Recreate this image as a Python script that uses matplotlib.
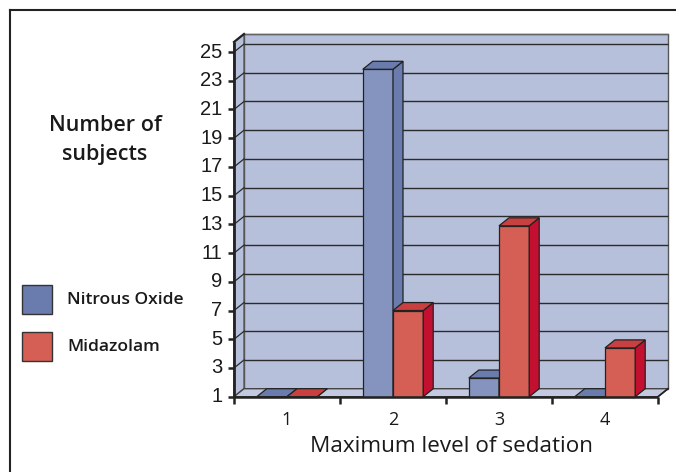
import matplotlib
matplotlib.use("Agg")
import matplotlib.pyplot as plt
from matplotlib.patches import Polygon, Rectangle
from matplotlib.lines import Line2D

# ---- data -------------------------------------------------------------
levels = ["1", "2", "3", "4"]
series_names = ["Nitrous Oxide", "Midazolam"]
nitrous_oxide = [0, 23.8, 2.3, 0]
midazolam = [0, 7.0, 12.9, 4.4]
y_ticks = list(range(1, 26, 2))

# ---- styling ----------------------------------------------------------
W, H, DPI = 676, 472, 100
face = {"Nitrous Oxide": ("#8494BE", "#6A7CAE", "#6A7CAE"),   # front, top, side
        "Midazolam": ("#D55F55", "#C84040", "#C41030")}
wall_color = "#B7C0DA"
floor_color = "#C3C9E0"
ink = "#222222"
y_min, y_max = 1, 25.7
depth_px = (10, 8)

fig = plt.figure(figsize=(W / DPI, H / DPI), dpi=DPI)
fig.patch.set_facecolor("white")

def fx(px):
    return px / W

def fy(py):
    return 1 - py / H

# front plane of the 3-D box
left_px, right_px, bottom_px, top_px = 234, 658, 396.7, 42
ax = fig.add_axes([fx(left_px), fy(bottom_px), fx(right_px - left_px),
                   (bottom_px - top_px) / H])
ax.set_xlim(0.5, len(levels) + 0.5)
ax.set_ylim(y_min, y_max)
ax.axis("off")

x0, x1 = ax.get_xlim()
dx = depth_px[0] * (x1 - x0) / (right_px - left_px)
dy = depth_px[1] * (y_max - y_min) / (bottom_px - top_px)

def poly(pts, fc, ec=ink, lw=0.9, z=1):
    p = Polygon(pts, closed=True, facecolor=fc, edgecolor=ec, linewidth=lw,
                zorder=z, clip_on=False, joinstyle="miter")
    ax.add_patch(p)

# back wall, side wall, floor
poly([(x0 + dx, y_min + dy), (x1 + dx, y_min + dy), (x1 + dx, y_max + dy),
      (x0 + dx, y_max + dy)], wall_color, ec="#555555", lw=1.0, z=1)
poly([(x0, y_min), (x0 + dx, y_min + dy), (x0 + dx, y_max + dy), (x0, y_max)],
     wall_color, ec="#555555", lw=1.0, z=1)
poly([(x0, y_min), (x1, y_min), (x1 + dx, y_min + dy), (x0 + dx, y_min + dy)],
     floor_color, ec="#444444", lw=1.0, z=1)

# gridlines on the walls
for v in y_ticks[1:]:
    ax.plot([x0 + dx, x1 + dx], [v + dy, v + dy], color="#2b2b2b", lw=1.0,
            zorder=2, clip_on=False, solid_capstyle="butt")
    ax.plot([x0, x0 + dx], [v, v + dy], color="#2b2b2b", lw=0.9,
            zorder=2, clip_on=False)
ax.plot([x0 + dx, x1 + dx], [y_max + dy, y_max + dy], color="#666666", lw=1.0,
        zorder=2, clip_on=False)

# bars
bar_w = 0.285
for i, lvl in enumerate(levels):
    xc = i + 1
    for name, vals, off in ((series_names[0], nitrous_oxide, -1),
                            (series_names[1], midazolam, 0)):
        front, top, side = face[name]
        v = max(vals[i], y_min)
        a = xc + off * bar_w
        b = a + bar_w
        z = 3 + i * 0.1 + (0.05 if off == 0 else 0)
        poly([(a, y_min), (b, y_min), (b, v), (a, v)], front, z=z)
        poly([(b, y_min), (b + dx, y_min + dy), (b + dx, v + dy), (b, v)], side, z=z)
        poly([(a, v), (b, v), (b + dx, v + dy), (a + dx, v + dy)], top, z=z)

# axis lines
ax.plot([x0, x0], [y_min, y_max], color=ink, lw=2.0, zorder=6, clip_on=False,
        solid_capstyle="butt")
ax.plot([x0, x0 + dx], [y_max, y_max + dy], color=ink, lw=1.6, zorder=6,
        clip_on=False)
ax.plot([x0, x1], [y_min, y_min], color=ink, lw=1.8, zorder=6, clip_on=False,
        solid_capstyle="butt")
ax.plot([x1, x1 + dx], [y_min, y_min + dy], color=ink, lw=1.2, zorder=6,
        clip_on=False)

# y ticks and labels
tick_len_x = 6 * (x1 - x0) / (right_px - left_px)
for v in y_ticks:
    ax.plot([x0 - tick_len_x, x0], [v, v], color=ink, lw=1.8, zorder=6,
            clip_on=False, solid_capstyle="butt")
    ax.text(x0 - tick_len_x * 1.9, v, str(v), ha="right", va="center",
            fontsize=14.5, family="Liberation Sans", color="#1a1a1a",
            clip_on=False)

# x ticks at category boundaries and labels
tick_len_y = 7 * (y_max - y_min) / (bottom_px - top_px)
for k in range(len(levels) + 1):
    xb = x0 + k
    ax.plot([xb, xb], [y_min, y_min - tick_len_y], color=ink, lw=1.8,
            zorder=6, clip_on=False, solid_capstyle="butt")
for i, lvl in enumerate(levels):
    ax.text(i + 1, y_min - 1.6, lvl, ha="center", va="center", fontsize=13,
            family="Open Sans", color="#1a1a1a", clip_on=False)

fig.text(fx(451), fy(446), "Maximum level of sedation", ha="center",
         va="center", fontsize=16.2, family="Open Sans", color="#1a1a1a")
fig.text(fx(105), fy(140.5), "Number of\nsubjects", ha="center", va="center",
         fontsize=15.5, family="Open Sans", fontweight="semibold",
         color="#1a1a1a", linespacing=1.5)

# legend
for name, ytop in zip(series_names, (285, 332)):
    fig.add_artist(Rectangle((fx(22), fy(ytop + 29)), fx(30), 29 / H,
                             facecolor=face[name][0] if name == "Midazolam"
                             else face[name][1],
                             edgecolor="#333333", linewidth=1.0,
                             transform=fig.transFigure))
    fig.text(fx(67), fy(ytop + 15), name, ha="left", va="center",
             fontsize=12.6, family="Open Sans", fontweight="semibold",
             color="#1a1a1a")

# frame
fig.add_artist(Line2D([fx(10), 1], [fy(10.3), fy(10.3)], color=ink, lw=1.5,
                      transform=fig.transFigure))
fig.add_artist(Line2D([fx(10), fx(10)], [fy(10.3), 0], color=ink, lw=1.5,
                      transform=fig.transFigure))

fig.savefig("out.png", dpi=DPI, facecolor="white")
